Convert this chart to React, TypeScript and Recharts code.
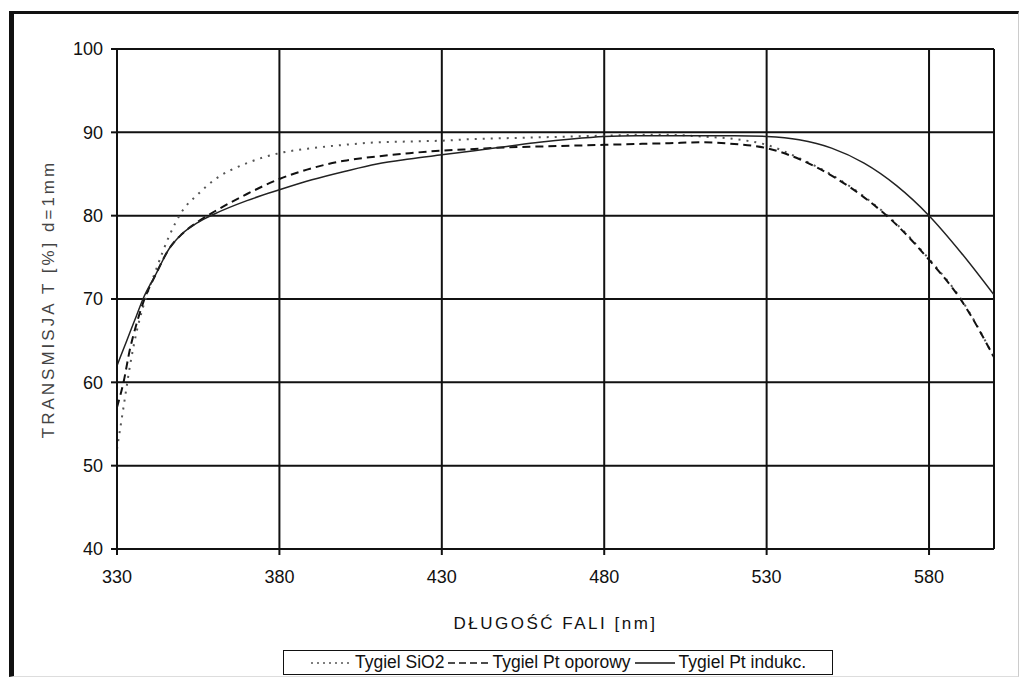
import { CartesianGrid, Line, LineChart, ReferenceLine, XAxis, YAxis } from "recharts";

const wavelengths = [
  330, 332, 334, 336, 338, 342, 346, 350, 355, 360, 370, 380, 390, 400, 410, 420, 430, 440, 450,
  460, 470, 480, 490, 500, 510, 520, 530, 540, 550, 560, 570, 580, 590, 600,
];

const tygielSiO2 = [
  52, 57, 62, 66, 69, 73.5, 77.5, 80.5, 82.6, 84.3, 86.3, 87.5, 88.1, 88.5, 88.8, 88.9, 89.0, 89.2,
  89.3, 89.4, 89.5, 89.6, 89.7, 89.7, 89.5, 89.2, 88.5, 86.9, 84.9, 82.3, 79, 74.8, 69.9, 63,
];

const tygielPtOporowy = [
  57, 60, 64, 67, 69.5, 73, 76, 77.8, 79.3, 80.5, 82.6, 84.4, 85.7, 86.6, 87.1, 87.5, 87.8, 88.0,
  88.2, 88.3, 88.4, 88.5, 88.6, 88.7, 88.8, 88.6, 88.1, 86.8, 84.8, 82.2, 78.9, 74.7, 69.8, 63,
];

const tygielPtIndukc = [
  62, 64, 66, 68, 70, 73, 76, 77.8, 79.2, 80.2, 81.8, 83.1, 84.3, 85.3, 86.2, 86.8, 87.3, 87.8, 88.3,
  88.8, 89.2, 89.5, 89.6, 89.6, 89.6, 89.6, 89.5, 89.1, 88.1, 86.3, 83.6, 80, 75.5, 70.5,
];

const xTicks = [330, 380, 430, 480, 530, 580];
const yTicks = [40, 50, 60, 70, 80, 90, 100];

const data = wavelengths.map((nm, i) => ({
  nm,
  sio2: tygielSiO2[i],
  oporowy: tygielPtOporowy[i],
  indukc: tygielPtIndukc[i],
}));

const FONT = "'Liberation Sans', Arial, sans-serif";
const tickStyle = { fontSize: 18, fill: "#111", fontFamily: FONT };

function LegendSample({ dash, color, width }: { dash?: string; color: string; width: number }) {
  return (
    <svg width={42} height={10} style={{ display: "block" }}>
      <line x1={1} y1={5} x2={41} y2={5} stroke={color} strokeWidth={width} strokeDasharray={dash} />
    </svg>
  );
}

export default function App() {
  return (
    <div style={{ position: "relative", width: 1012, height: 670, background: "#fff" }}>
      <div
        style={{
          position: "absolute",
          left: 1,
          top: 3,
          width: 1004,
          height: 662,
          borderTop: "3px solid #111",
          borderLeft: "5px solid #111",
          borderRight: "1px solid #ccc",
          borderBottom: "1px solid #ddd",
        }}
      />
      <div style={{ position: "absolute", left: 0, top: 0 }}>
        <LineChart width={1012} height={670} data={data} margin={{ top: 41, right: 26, left: 0, bottom: 49 }}>
          <CartesianGrid stroke="#111" strokeWidth={2} />
          <XAxis
            dataKey="nm"
            type="number"
            domain={[330, 600]}
            ticks={xTicks}
            height={80}
            tick={tickStyle}
            tickMargin={15}
            axisLine={{ stroke: "#111", strokeWidth: 2 }}
            tickLine={{ stroke: "#111", strokeWidth: 2 }}
            label={{
              value: "DŁUGOŚĆ FALI  [nm]",
              position: "insideBottom",
              offset: 0,
              style: { fontSize: 17, fill: "#111", fontFamily: FONT, letterSpacing: 2.5, whiteSpace: "pre" },
            }}
          />
          <YAxis
            type="number"
            domain={[40, 100]}
            ticks={yTicks}
            width={109}
            tick={tickStyle}
            tickMargin={8}
            axisLine={{ stroke: "#111", strokeWidth: 2 }}
            tickLine={{ stroke: "#111", strokeWidth: 2 }}
            label={{
              value: "TRANSMISJA T [%] d=1mm",
              angle: -90,
              position: "insideLeft",
              offset: 40,
              style: { fontSize: 17, fill: "#444", fontFamily: FONT, letterSpacing: 3, textAnchor: "middle" },
            }}
          />
          <ReferenceLine x={600} stroke="#111" strokeWidth={2} />
          <Line
            type="monotone"
            dataKey="sio2"
            stroke="#555"
            strokeWidth={2}
            strokeDasharray="2 6"
            dot={false}
            isAnimationActive={false}
          />
          <Line
            type="monotone"
            dataKey="oporowy"
            stroke="#111"
            strokeWidth={2}
            strokeDasharray="8 5"
            dot={false}
            isAnimationActive={false}
          />
          <Line
            type="monotone"
            dataKey="indukc"
            stroke="#222"
            strokeWidth={1.5}
            dot={false}
            isAnimationActive={false}
          />
        </LineChart>
      </div>
      <div
        style={{
          position: "absolute",
          left: 275,
          top: 642,
          width: 550,
          height: 25,
          boxSizing: "border-box",
          border: "1.5px solid #111",
          display: "flex",
          alignItems: "center",
          justifyContent: "center",
          gap: 3,
          fontFamily: FONT,
          fontSize: 17.5,
          color: "#111",
          whiteSpace: "nowrap",
        }}
      >
        <LegendSample dash="2 4" color="#555" width={1.5} />
        <span>Tygiel SiO2</span>
        <LegendSample dash="7 4" color="#111" width={1.5} />
        <span>Tygiel Pt oporowy</span>
        <LegendSample color="#111" width={1.5} />
        <span>Tygiel Pt indukc.</span>
      </div>
    </div>
  );
}
